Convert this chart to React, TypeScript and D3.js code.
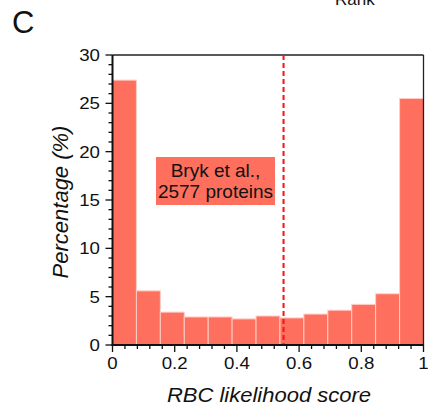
import React from "react";
import * as d3 from "d3";

const binValues = [27.4, 5.6, 3.4, 2.9, 2.9, 2.7, 3.0, 2.8, 3.2, 3.6, 4.2, 5.3, 25.5];
const xTickLabels = ["0", "0.2", "0.4", "0.6", "0.8", "1"];
const yTickLabels = ["0", "5", "10", "15", "20", "25", "30"];
const threshold = [0.55];
const annotationLines = ["Bryk et al.,", "2577 proteins"];

const W = 428, H = 411;
const FONT = "'Liberation Sans', Arial, Helvetica, sans-serif";
const BAR = "#fe6f5e";

export default function App() {
  const x = d3.scaleLinear().domain([0, 1]).range([112.5, 423.5]);
  const y = d3.scaleLinear().domain([0, 30]).range([345, 55]);
  const n = binValues.length;
  const bins = binValues.map((v, i) => ({ x0: i / n, x1: (i + 1) / n, v }));
  const xMinor = d3.range(0, 1.0001, 0.04);
  const yMinor = d3.range(0, 30.001, 1);

  return (
    <svg width={W} height={H} style={{ position: "absolute", left: 0, top: 0, background: "#fff" }}>
      <text x={12} y={33} fontFamily={FONT} fontSize={31} fill="#111">C</text>
      <text x={335} y={5} fontFamily={FONT} fontSize={17} fill="#111">Rank</text>

      {bins.map((b, i) => (
        <rect key={i} x={x(b.x0)} y={y(b.v)} width={x(b.x1) - x(b.x0)} height={y(0) - y(b.v)}
          fill={BAR} stroke="#ffcdc6" strokeWidth={1} />
      ))}

      {/* frame */}
      <line x1={x(0)} x2={x(1)} y1={y(30)} y2={y(30)} stroke="#222" strokeWidth={1.3} />
      <line x1={x(1)} x2={x(1)} y1={y(30)} y2={y(0)} stroke="#222" strokeWidth={1.3} />

      {threshold.map((t, i) => (
        <line key={i} x1={x(t)} x2={x(t)} y1={y(30)} y2={y(0)} stroke="#ff1010" strokeWidth={2} strokeDasharray="5,3" />
      ))}

      {/* y axis */}
      <line x1={x(0)} x2={x(0)} y1={y(30)} y2={y(0) + 1} stroke="#111" strokeWidth={2} />
      {yMinor.map((v) => {
        const major = Math.round(v) % 5 === 0;
        return <line key={v} x1={x(0) - (major ? 7 : 4)} x2={x(0)} y1={y(v)} y2={y(v)} stroke="#111" strokeWidth={1.3} />;
      })}
      {yTickLabels.map((t) => (
        <g key={t} transform={`translate(100,${y(+t)}) scale(1.1,1)`}>
          <text dy="0.35em" textAnchor="end" fontFamily={FONT} fontSize={17} fill="#111">{t}</text>
        </g>
      ))}

      {/* x axis */}
      <line x1={x(0) - 1} x2={x(1)} y1={y(0)} y2={y(0)} stroke="#111" strokeWidth={2} />
      {xMinor.map((v, i) => {
        const major = i % 5 === 0;
        return <line key={i} x1={x(v)} x2={x(v)} y1={y(0)} y2={y(0) + (major ? 7 : 4)} stroke="#111" strokeWidth={1.3} />;
      })}
      {xTickLabels.map((t) => (
        <g key={t} transform={`translate(${x(+t)},369) scale(1.1,1)`}>
          <text textAnchor="middle" fontFamily={FONT} fontSize={17} fill="#111">{t}</text>
        </g>
      ))}

      <g transform="translate(269,402) scale(1.1,1)">
        <text textAnchor="middle" fontFamily={FONT} fontSize={20} fontStyle="italic" fill="#111">RBC likelihood score</text>
      </g>
      <text transform={`translate(68,202) rotate(-90)`} textAnchor="middle" fontFamily={FONT} fontSize={22} fontStyle="italic" fill="#111">Percentage (%)</text>

      <rect x={156} y={157} width={119} height={48} fill={BAR} />
      {annotationLines.map((l, i) => (
        <text key={i} x={215.5} y={176.5 + i * 21} textAnchor="middle" fontFamily={FONT} fontSize={19} fill="#111">{l}</text>
      ))}
    </svg>
  );
}
